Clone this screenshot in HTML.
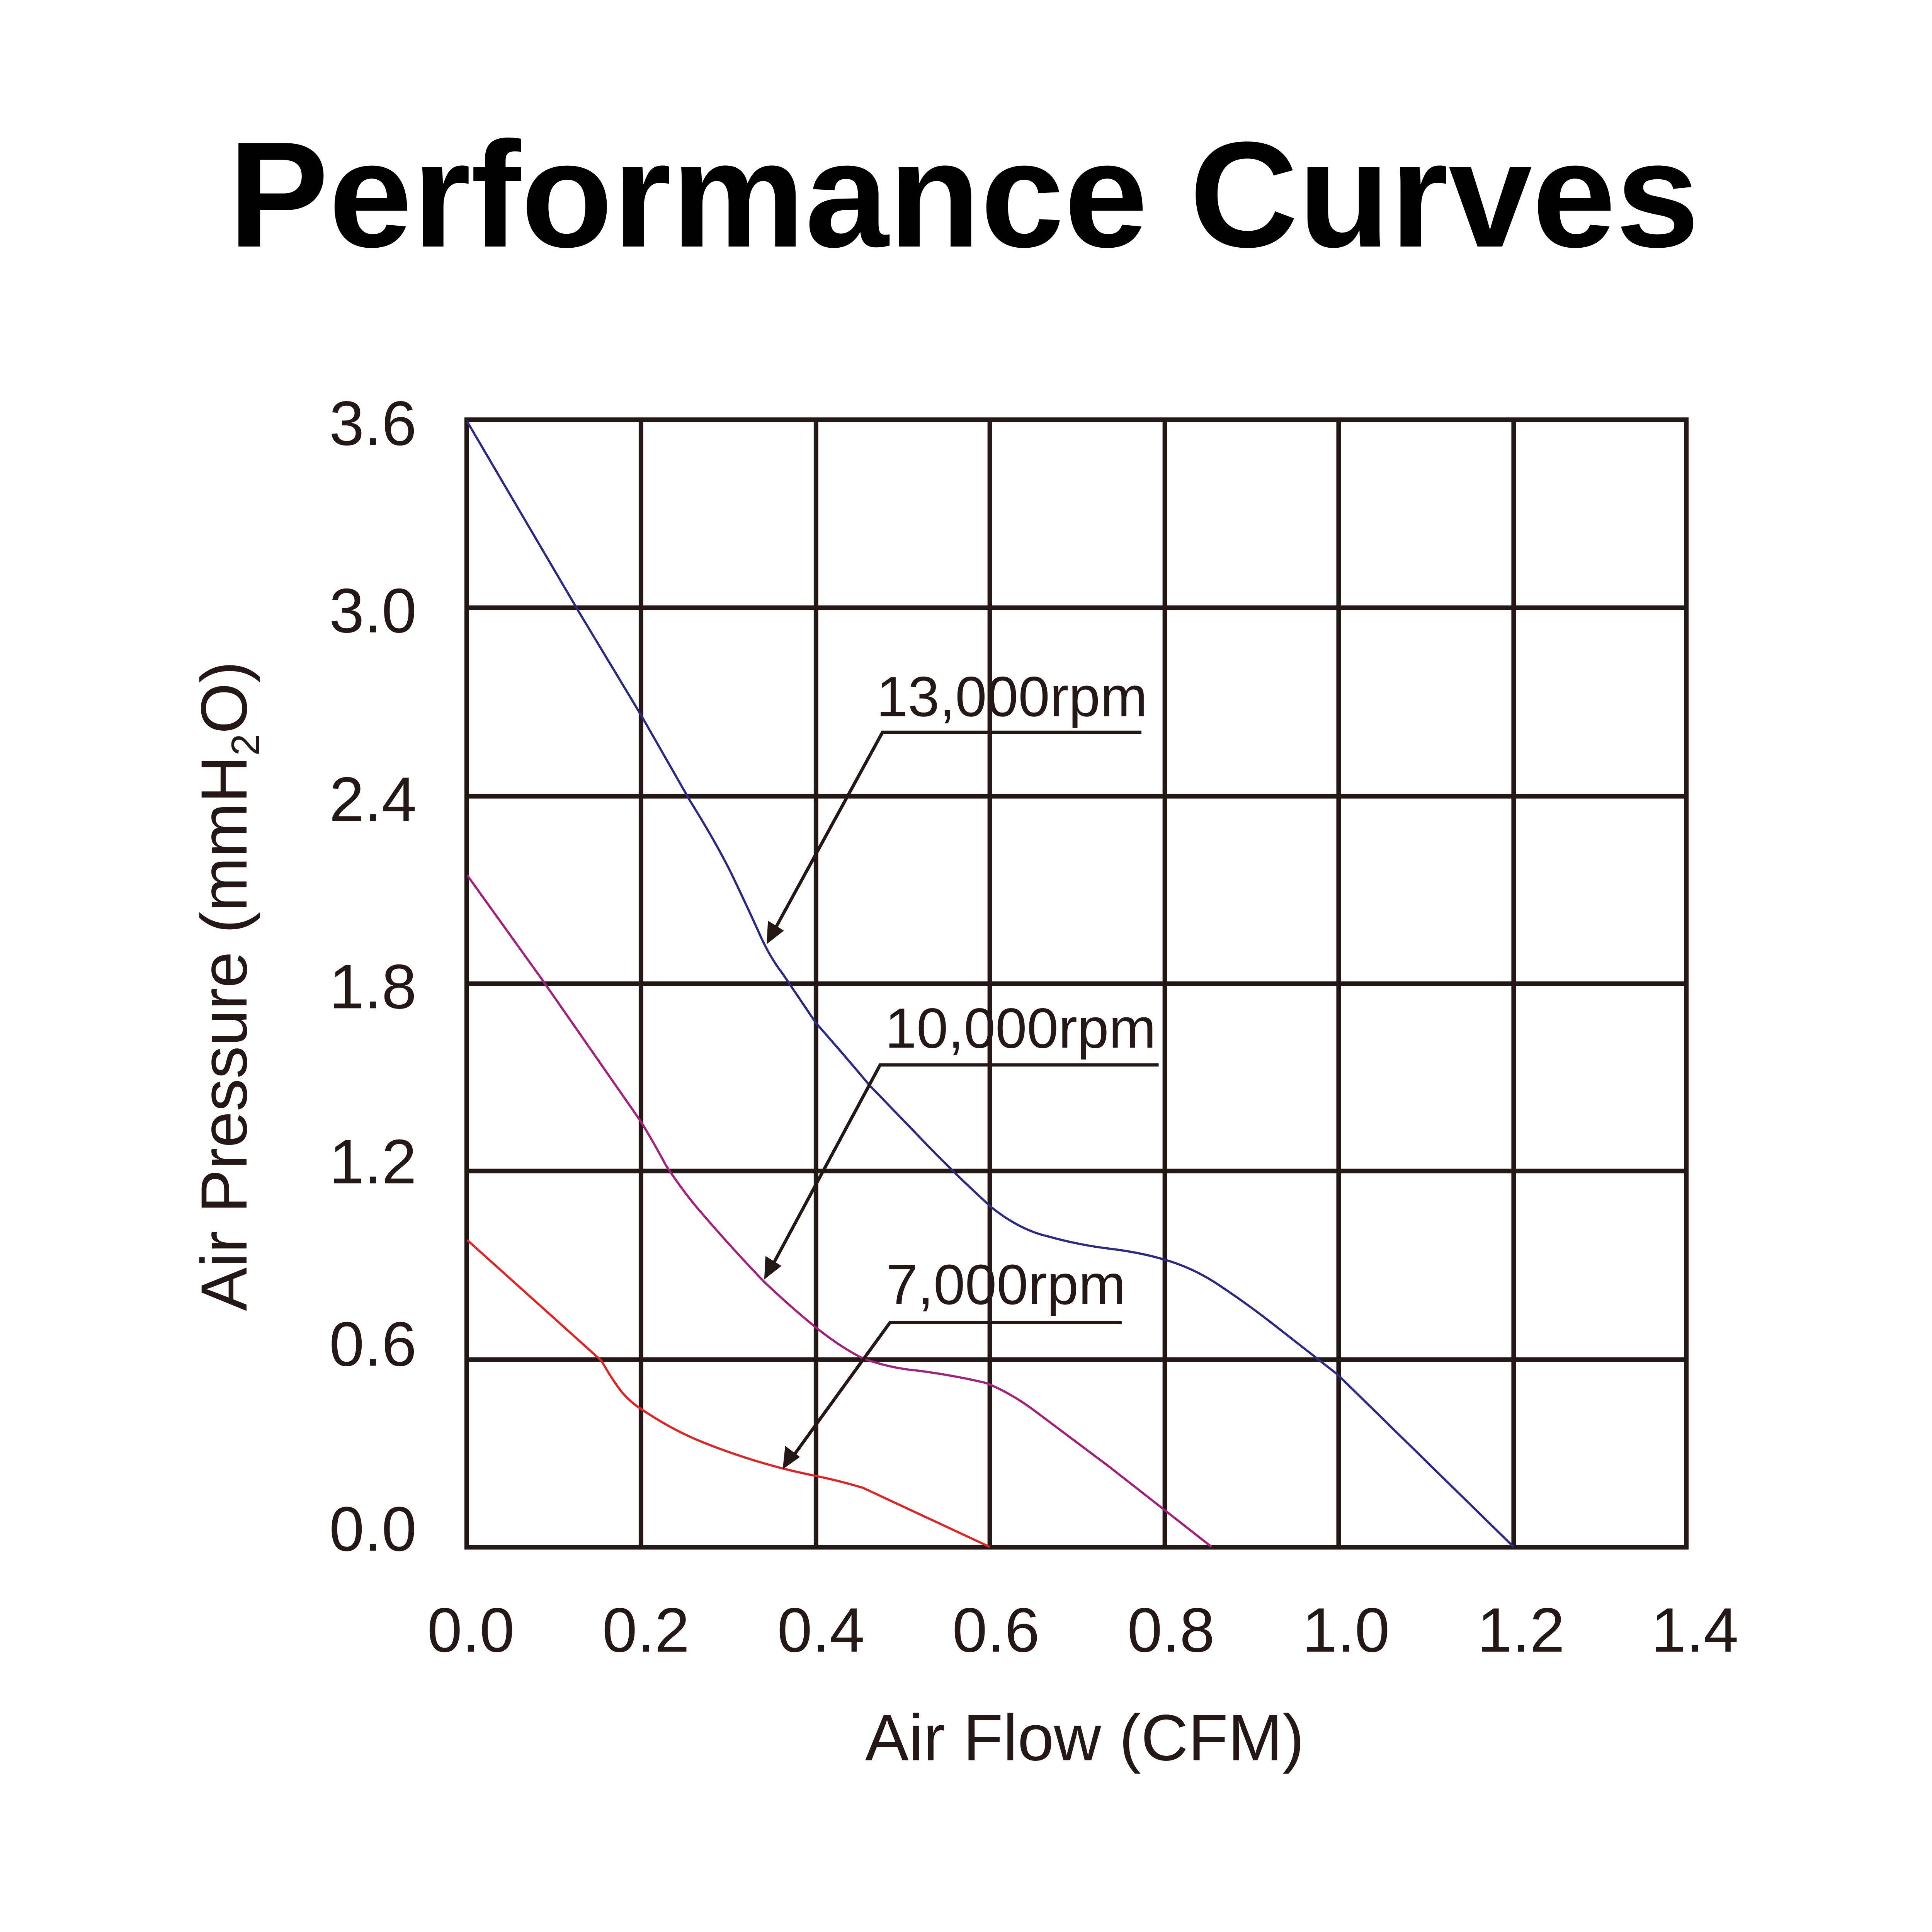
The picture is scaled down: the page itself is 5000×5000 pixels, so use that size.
<!DOCTYPE html>
<html><head><style>html,body{margin:0;padding:0;background:#fff}svg{display:block}</style></head>
<body>
<svg width="5000" height="5000" viewBox="0 0 5000 5000" xmlns="http://www.w3.org/2000/svg">
<rect width="5000" height="5000" fill="#fff"/>
<g transform="scale(3.19)" font-family="Liberation Sans, Arial, sans-serif">
<text x="782" y="200" font-size="122" font-weight="bold" text-anchor="middle" fill="#000">Performance Curves</text>
<g stroke="#231815" stroke-width="3.7" fill="none">
<path d="M520,341V1255M662,341V1255M803,341V1255M945,341V1255M1086,341V1255M1228,341V1255"/>
<path d="M378,493H1368M378,646H1368M378,798H1368M378,950H1368M378,1103H1368"/>
<rect x="378.6" y="340.5" width="989.5" height="914.8"/>
</g>
<g fill="none" stroke-width="1.8" stroke-linejoin="round">
<path stroke="#2a2a85" d="M379,342 L470,497 L520,580 L560,650 Q580,682 593,708 Q605,733 615,755 Q624,776 635,790 L662,830 Q685,856 705,880 Q735,911 760,937 Q785,962 805,980 Q828,998 850,1003 Q875,1010 900,1013 Q925,1016 945,1022 Q966,1028 985,1040 Q1008,1055 1030,1072 L1085,1115 L1228,1255"/>
<path stroke="#a3207c" d="M379,710 L440,795 L520,910 Q531,928 540,945 Q555,968 570,985 Q595,1014 620,1040 Q641,1060 662,1077 Q682,1093 700,1102 Q722,1110 745,1112 Q775,1116 800,1122 Q820,1130 840,1145 L900,1190 L983,1255"/>
<path stroke="#e02424" d="M379,1006 L488,1104 Q497,1120 505,1130 Q512,1138 520,1143 Q545,1160 570,1170 Q600,1182 630,1190 Q645,1194 660,1197 Q680,1201 700,1207 L803,1255"/>
</g>
<g stroke="#231815" stroke-width="2.6" fill="none">
<path d="M926,594H716L628,755"/>
<path d="M940,864H714L627,1026"/>
<path d="M910,1073H722L643,1182"/>
</g>
<g fill="#231815">
<polygon points="622,766 623,747 636,755"/>
<polygon points="620,1038 621,1019 634,1027"/>
<polygon points="635,1192 637,1173 649,1182"/>
</g>
<g font-size="46" fill="#231815">
<text x="711" y="581">13,000rpm</text>
<text x="718" y="850">10,000rpm</text>
<text x="719" y="1058">7,000rpm</text>
</g>
<g font-size="51" fill="#231815" text-anchor="end">
<text x="338" y="361">3.6</text>
<text x="338" y="513">3.0</text>
<text x="338" y="666">2.4</text>
<text x="338" y="818">1.8</text>
<text x="338" y="960">1.2</text>
<text x="338" y="1108">0.6</text>
<text x="338" y="1258">0.0</text>
</g>
<g font-size="51" fill="#231815" text-anchor="middle">
<text x="382" y="1340">0.0</text>
<text x="524" y="1340">0.2</text>
<text x="666" y="1340">0.4</text>
<text x="808" y="1340">0.6</text>
<text x="950" y="1340">0.8</text>
<text x="1092" y="1340">1.0</text>
<text x="1234" y="1340">1.2</text>
<text x="1375" y="1340">1.4</text>
<text x="880" y="1428" font-size="53">Air Flow (CFM)</text>
<text transform="translate(200,800) rotate(-90)" font-size="53">Air Pressure (mmH<tspan font-size="32" dy="10">2</tspan><tspan dy="-10">O)</tspan></text>
</g>
</g>
</svg>
</body></html>
